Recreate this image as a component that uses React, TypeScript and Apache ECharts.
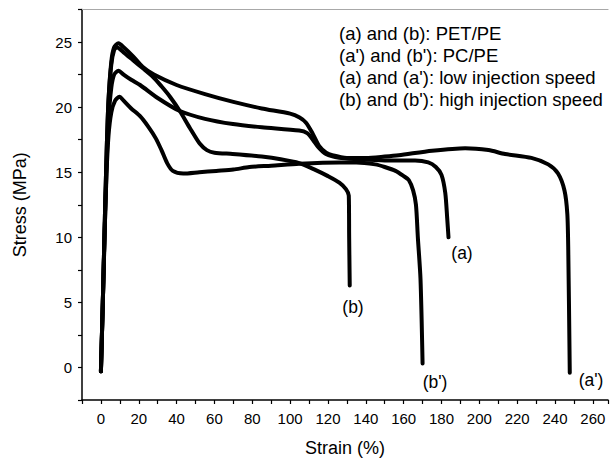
import React, { useEffect, useRef } from "react";
import * as echarts from "echarts";

// Stress-strain curves: [strain %, stress MPa]
const curveA: number[][] = [
  [0, -0.3], [1, 5], [2, 10.5], [3, 15.5], [4, 19], [5.5, 21.5], [7, 22.5], [9.3, 22.8],
  [12, 22.5], [16, 22.1], [20.7, 21.7], [30, 20.7], [41.7, 19.7], [55, 19.1], [69.8, 18.7],
  [85, 18.45], [104.8, 18.2], [109, 18.0], [112, 17.5], [115, 16.9], [118.9, 16.4], [126, 16.1],
  [135, 16.0], [150, 15.9], [166, 15.9], [173, 15.75], [177, 15.4], [180, 14.8],
  [182, 13.4], [183, 11.5], [183.7, 10.0],
];
const curveAPrime: number[][] = [
  [0, -0.3], [1, 5], [2, 11], [3, 16.5], [4, 20.5], [5.5, 23.5], [7, 24.6], [9.3, 24.9],
  [12, 24.6], [17, 23.9], [22, 23.1], [28, 22.5], [40, 21.7], [55, 21.0], [70, 20.4],
  [85, 19.9], [100, 19.5], [105, 19.2], [108.4, 18.8], [111.8, 18.0], [115.4, 17.0],
  [119, 16.5], [122.3, 16.3], [130, 16.1], [140, 16.1], [150, 16.2], [157.4, 16.3],
  [175, 16.65], [192.5, 16.85], [204.8, 16.7], [213.6, 16.4], [227.5, 16.1],
  [236.4, 15.6], [241.6, 14.9], [245, 13.6], [246.5, 11.8], [247, 9], [247.8, -0.4],
];
const curveB: number[][] = [
  [0, -0.3], [1, 5], [2, 11], [3, 16.5], [4, 20.5], [5.5, 23.3], [7, 24.4], [8.4, 24.6],
  [12, 24.2], [17, 23.6], [22, 23.0], [27.7, 22.3], [32, 21.6], [36.5, 20.8], [41.7, 19.7],
  [47, 18.4], [52.2, 17.2], [56, 16.7], [60, 16.5], [69.6, 16.4], [85, 16.2], [95, 16.0],
  [104.8, 15.7], [113, 15.2], [120, 14.7], [126, 14.2], [129.5, 13.7], [131, 13.2],
  [131.2, 10], [131.5, 6.3],
];
const curveBPrime: number[][] = [
  [0, -0.3], [1, 5], [2, 10.5], [3, 15], [4, 17.8], [5.5, 19.6], [7.5, 20.5], [9.8, 20.8],
  [12, 20.5], [16, 19.9], [20.7, 19.3], [25, 18.5], [29, 17.6], [32, 16.7], [35, 15.7],
  [38, 15.1], [43.5, 14.9], [52, 15.0], [61, 15.1], [70, 15.2], [78.5, 15.4], [90, 15.5],
  [104.8, 15.65], [126, 15.75], [135, 15.75], [145, 15.6], [150, 15.4], [155.7, 15.1],
  [160, 14.7], [162.7, 14.4], [165, 13.6], [166.5, 12.5], [167.5, 10], [168.9, 6.8],
  [170, 0.3],
];

const legendLines = [
  "(a) and (b): PET/PE",
  "(a') and (b'): PC/PE",
  "(a) and (a'): low injection speed",
  "(b) and (b'): high injection speed",
];

const FONT = "'Liberation Sans', Arial, Helvetica, sans-serif";

const isMultiple = (v: number, m: number) => Math.abs(v / m - Math.round(v / m)) < 1e-6;

export default function App() {
  const ref = useRef<HTMLDivElement>(null);
  useEffect(() => {
    if (!ref.current) return;
    const chart = echarts.init(ref.current, null, { renderer: "svg" });
    const lineSeries = (name: string, data: number[][]) => ({
      name,
      type: "line",
      data,
      showSymbol: false,
      smooth: 0.25,
      lineStyle: { color: "#000", width: 4, cap: "round", join: "round" },
      silent: true,
    });
    const curveLabel = (text: string, x: number, y: number) => ({
      type: "text",
      x,
      y,
      style: {
        text,
        fill: "#000",
        font: `17.5px ${FONT}`,
        align: "center",
        verticalAlign: "middle",
      },
    });
    chart.setOption({
      animation: false,
      backgroundColor: "#fff",
      grid: { left: 82, right: 0, top: 9.5, bottom: 56.3, containLabel: false },
      xAxis: [
        {
          type: "value",
          min: -10,
          max: 268,
          interval: 10,
          name: "Strain (%)",
          nameLocation: "middle",
          nameGap: 39,
          nameTextStyle: { fontSize: 18, color: "#000", fontFamily: FONT },
          axisLine: { show: true, onZero: false, lineStyle: { color: "#000", width: 1.5 } },
          axisTick: { show: true, inside: false, length: 4, lineStyle: { color: "#000", width: 1.2 } },
          axisLabel: {
            formatter: (v: number) => (isMultiple(v, 20) && v >= 0 && v <= 260 ? String(Math.round(v)) : ""),
            fontSize: 15,
            color: "#000",
            fontFamily: FONT,
            margin: 11,
          },
          splitLine: { show: false },
        },
        {
          type: "value",
          position: "top",
          min: -10,
          max: 268,
          axisLine: { show: true, onZero: false, lineStyle: { color: "#a8a8a8", width: 1.2 } },
          axisTick: { show: false },
          axisLabel: { show: false },
          splitLine: { show: false },
        },
      ],
      yAxis: {
        type: "value",
        min: -2.5,
        max: 27.5,
        interval: 2.5,
        name: "Stress (MPa)",
        nameLocation: "middle",
        nameGap: 53,
        nameTextStyle: { fontSize: 18, color: "#000", fontFamily: FONT },
        axisLine: { show: true, onZero: false, lineStyle: { color: "#000", width: 1.5 } },
        axisTick: { show: true, inside: false, length: 4, lineStyle: { color: "#000", width: 1.2 } },
        axisLabel: {
          formatter: (v: number) => (isMultiple(v, 5) && v >= 0 ? String(Math.round(v)) : ""),
          fontSize: 15,
          color: "#000",
          fontFamily: FONT,
          margin: 10,
        },
        splitLine: { show: false },
      },
      series: [
        lineSeries("(a)", curveA),
        lineSeries("(a')", curveAPrime),
        lineSeries("(b)", curveB),
        lineSeries("(b')", curveBPrime),
      ],
      graphic: [
        {
          type: "text",
          left: 339,
          top: 22,
          style: {
            text: legendLines.join("\n"),
            fill: "#000",
            font: `18.5px ${FONT}`,
            lineHeight: 22.2,
          },
        },
        curveLabel("(a)", 462, 253),
        curveLabel("(b)", 353, 307),
        curveLabel("(b')", 435, 382),
        curveLabel("(a')", 591, 380),
      ],
    });
    return () => chart.dispose();
  }, []);
  return (
    <div
      ref={ref}
      style={{ position: "fixed", left: 0, top: 0, width: 611, height: 462 }}
    />
  );
}
